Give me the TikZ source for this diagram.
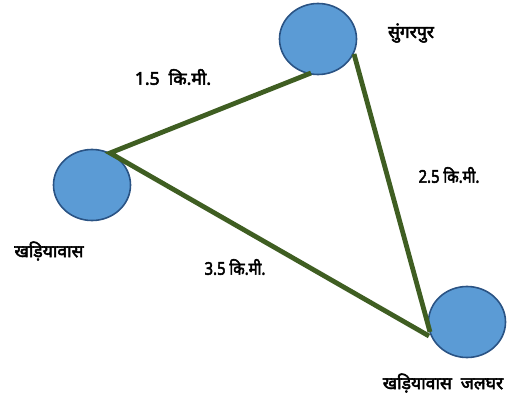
\documentclass[tikz,border=0pt]{standalone}
\usepackage{fontspec}
\newfontfamily\deva[Script=Devanagari,FakeBold=3]{Noto Sans}
\usetikzlibrary{shapes.geometric}
\definecolor{linegreen}{HTML}{3F5E22}
\definecolor{circfill}{HTML}{5B9BD5}
\definecolor{circedge}{HTML}{2A5384}
\begin{document}
\begin{tikzpicture}[x=1pt,y=-1pt,
  place/.style={draw=circedge, line width=1.6pt, fill=circfill},
  conn/.style={draw=linegreen, line width=4.8pt},
  lbl/.style={font=\deva\fontsize{17.5}{20}\selectfont, inner sep=0pt},
  narrow/.style={font=\deva\fontsize{17.5}{20}\selectfont, xscale=0.85}]
\useasboundingbox (0,0) rectangle (518,398);
\draw[place] (318,39) ellipse [x radius=38.5, y radius=35.5];
\draw[place] (92,185) ellipse [x radius=38.5, y radius=35.5];
\draw[place] (467,322) ellipse [x radius=38.5, y radius=35.5];
\coordinate (ka) at (110,153);
\coordinate (sa) at (311,73);
\coordinate (sb) at (354,54);
\coordinate (ja) at (430,332);
\coordinate (jb) at (429,336);
\draw[conn, line join=miter] (sa) -- (ka) -- (jb);
\draw[conn] (sb) -- (ja);
\node[lbl] (t1) at (411,33) {सुंगरपुर};
\node[lbl] (t2) at (173,77) {1.5\ \ कि.मी.};
\node[lbl] (t3) at (49,251) {खड़ियावास};
\node[lbl,narrow] (t4) at (449,175) {2.5 कि.मी.};
\node[lbl,narrow] (t5) at (235,267) {3.5 कि.मी.};
\node[lbl] (t6) at (443,383) {खड़ियावास\hspace{9pt}जलघर};
\end{tikzpicture}
\end{document}
